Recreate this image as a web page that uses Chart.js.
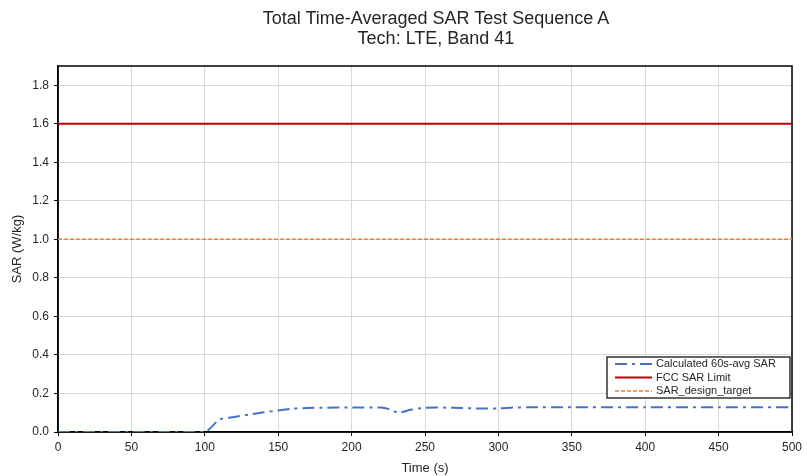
<!DOCTYPE html>
<html>
<head>
<meta charset="utf-8">
<script src="https://cdn.jsdelivr.net/npm/chart.js@4.4.0/dist/chart.umd.min.js"></script>
<style>
  html, body { margin: 0; padding: 0; background: #fff; }
  #wrap { position: relative; width: 807px; height: 476px; }
  #title {
    position: absolute; left: 236px; width: 400px; top: 8px;
    text-align: center; font-family: "Liberation Sans", Arial, sans-serif;
    font-size: 18px; line-height: 20px; color: #262626;
  }
  canvas { position: absolute; left: 0; top: 0; }
</style>
</head>
<body>
<div id="wrap">
  <canvas id="chart" width="807" height="476"></canvas>
  <div id="title">Total Time-Averaged SAR Test Sequence A<br>Tech: LTE, Band 41</div>
</div>
<script>
// time (s) and calculated 60s-avg SAR (W/kg)
const times = [0, 50, 100, 110, 120, 130, 140, 150, 160, 170, 180, 200, 220, 226, 232, 240, 250, 270, 285, 300, 310, 320, 350, 400, 450, 500];
const avgSar = [0, 0, 0, 0.065, 0.078, 0.09, 0.102, 0.112, 0.121, 0.125, 0.126, 0.127, 0.127, 0.118, 0.1, 0.115, 0.126, 0.126, 0.122, 0.122, 0.127, 0.128, 0.128, 0.129, 0.129, 0.129];
const fccLimit = 1.6;
const designTarget = 1.0;
const xRange = [0, 500];
const xStep = 50;
const yStep = 0.2;
const yTop = 1.8;

const font = "'Liberation Sans', Arial, sans-serif";

// black frame round the plot, drawn under the data lines
const framePlugin = {
  id: 'frame',
  beforeDatasetsDraw(chart) {
    const { ctx, chartArea: a } = chart;
    ctx.save();
    ctx.strokeStyle = '#000';
    ctx.lineWidth = 1.5;
    ctx.strokeRect(a.left, a.top, a.right - a.left, a.bottom - a.top);
    ctx.restore();
  }
};

// boxed legend in the lower right of the plot
const boxLegend = {
  id: 'boxLegend',
  afterDraw(chart) {
    const ctx = chart.ctx;
    const bx = 607, by = 357, bw = 183, bh = 41;
    ctx.save();
    ctx.fillStyle = '#fff';
    ctx.fillRect(bx, by, bw, bh);
    ctx.strokeStyle = '#000';
    ctx.lineWidth = 1.2;
    ctx.strokeRect(bx, by, bw, bh);
    ctx.font = '11px ' + font;
    ctx.textBaseline = 'middle';
    chart.data.datasets.forEach((ds, i) => {
      const y = by + 7 + i * 13.5;
      ctx.beginPath();
      ctx.strokeStyle = ds.borderColor;
      ctx.lineWidth = ds.borderWidth;
      ctx.setLineDash(ds.borderDash || []);
      ctx.moveTo(bx + 8, y);
      ctx.lineTo(bx + 45, y);
      ctx.stroke();
      ctx.setLineDash([]);
      ctx.fillStyle = '#262626';
      ctx.fillText(ds.label, bx + 49, y);
    });
    ctx.restore();
  }
};

new Chart(document.getElementById('chart'), {
  type: 'line',
  data: {
    datasets: [
      {
        label: 'Calculated 60s-avg SAR',
        data: times.map((t, i) => ({ x: t, y: avgSar[i] })),
        borderColor: '#4472C4',
        borderWidth: 2,
        borderDash: [12, 5, 3, 5],
        pointRadius: 0,
        tension: 0.2
      },
      {
        label: 'FCC SAR Limit',
        data: xRange.map(t => ({ x: t, y: fccLimit })),
        borderColor: '#C00000',
        borderWidth: 2,
        pointRadius: 0
      },
      {
        label: 'SAR_design_target',
        data: xRange.map(t => ({ x: t, y: designTarget })),
        borderColor: '#ED7D31',
        borderWidth: 1.5,
        borderDash: [4, 2],
        pointRadius: 0
      }
    ]
  },
  options: {
    responsive: false,
    animation: false,
    layout: { padding: { top: 66, right: 15, left: 10, bottom: 0 } },
    plugins: {
      legend: { display: false },
      title: { display: false },
      tooltip: { enabled: false }
    },
    scales: {
      x: {
        type: 'linear',
        min: xRange[0],
        max: xRange[1],
        ticks: { stepSize: xStep, color: '#262626', font: { family: font, size: 12 }, padding: 4, maxRotation: 0 },
        grid: { color: '#d9d9d9', tickColor: '#000', tickLength: 4, lineWidth: 1 },
        border: { color: '#000', width: 1.5 },
        title: { display: true, text: 'Time (s)', color: '#262626', font: { family: font, size: 13 }, padding: { top: 0, bottom: 0 } },
        afterFit(scale) { scale.height = 44; }
      },
      y: {
        min: 0,
        max: 1.9,
        afterBuildTicks(scale) {
          scale.ticks = scale.ticks.filter(t => t.value <= yTop + 1e-6);
        },
        ticks: {
          stepSize: yStep, color: '#262626', font: { family: font, size: 12 }, padding: 5,
          callback: v => Number(v).toFixed(1)
        },
        grid: { color: '#d9d9d9', tickColor: '#000', tickLength: 4, lineWidth: 1 },
        border: { color: '#000', width: 1.5 },
        title: { display: true, text: 'SAR (W/kg)', color: '#262626', font: { family: font, size: 13 }, padding: { top: 0, bottom: 2 } },
        afterFit(scale) { scale.width = 48; }
      }
    }
  },
  plugins: [framePlugin, boxLegend]
});
</script>
</body>
</html>
